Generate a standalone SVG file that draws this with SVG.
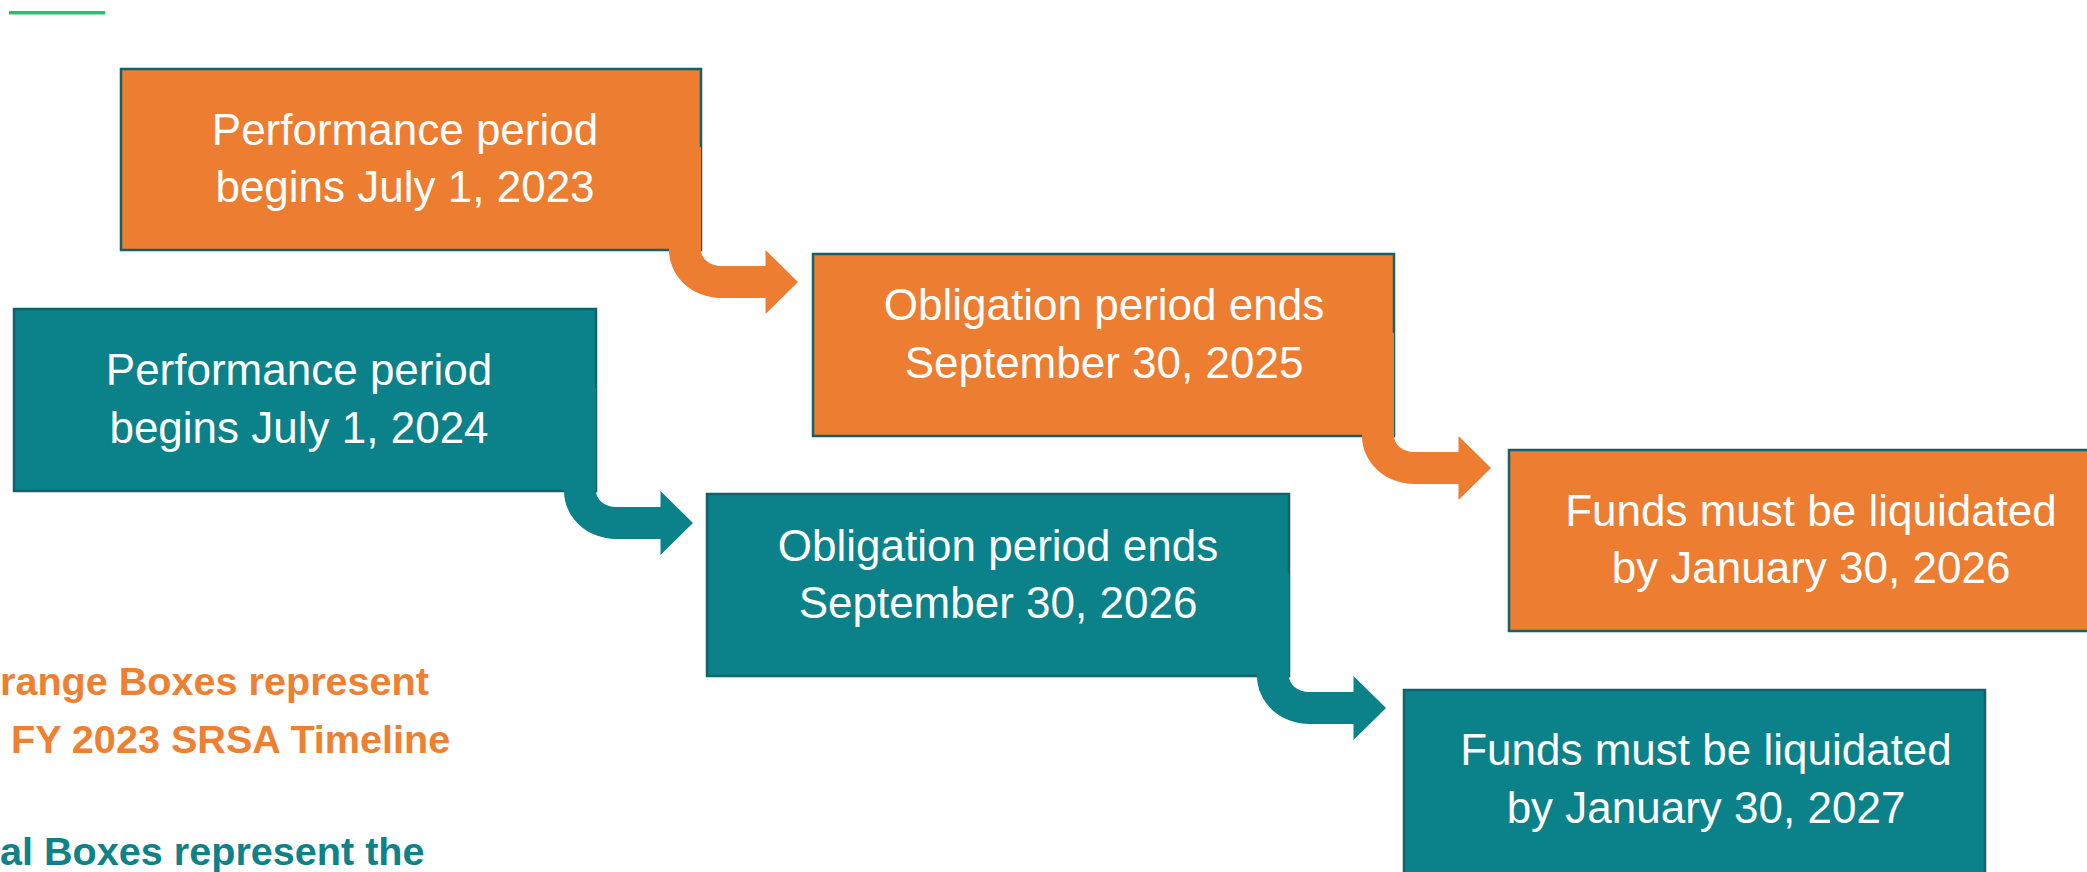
<svg xmlns="http://www.w3.org/2000/svg" xmlns:xlink="http://www.w3.org/1999/xlink" width="2087" height="872" viewBox="0 0 2087 872">
  <style>
    .box { stroke: #12626A; stroke-width: 2.5; }
    .orange { fill: #ED7D31; }
    .teal { fill: #0B8289; }
    .label { font-family: "Liberation Sans", Arial, sans-serif; font-size: 44px; fill: #FFFFFF; text-anchor: middle; }
    .legend { font-family: "Liberation Sans", Arial, sans-serif; font-size: 39.6px; font-weight: bold; }
  </style>
  <defs>
    <!-- bent arrow: origin at the bottom-right corner of the source box -->
    <path id="bend" d="M -32,-103 H 0 V 0 A 20 16 0 0 0 20 16 H 64.5 V 0 L 97 32 L 64.5 64 V 48 H 20 A 52 48 0 0 1 -32 0 Z"/>
  </defs>

  <rect width="2087" height="872" fill="#FFFFFF"/>

  <!-- accent rule -->
  <rect x="9" y="11" width="96" height="3.5" fill="#22C36A"/>

  <!-- FY 2023 timeline -->
  <g id="perf-2023">
    <rect class="box orange" x="121" y="69" width="580" height="181"/>
    <text class="label" x="405" y="145">Performance period</text>
    <text class="label" x="405" y="202">begins July 1, 2023</text>
  </g>
  <g id="oblig-2025">
    <rect class="box orange" x="813" y="254" width="581" height="182"/>
    <text class="label" x="1104" y="320">Obligation period ends</text>
    <text class="label" x="1104" y="378">September 30, 2025</text>
  </g>
  <g id="liquid-2026">
    <rect class="box orange" x="1509" y="450" width="590" height="181"/>
    <text class="label" x="1811" y="526">Funds must be liquidated</text>
    <text class="label" x="1811" y="583">by January 30, 2026</text>
  </g>

  <!-- FY 2024 timeline -->
  <g id="perf-2024">
    <rect class="box teal" x="14" y="309" width="582" height="182"/>
    <text class="label" x="299" y="385">Performance period</text>
    <text class="label" x="299" y="443">begins July 1, 2024</text>
  </g>
  <g id="oblig-2026">
    <rect class="box teal" x="707" y="494" width="582" height="182"/>
    <text class="label" x="998" y="561">Obligation period ends</text>
    <text class="label" x="998" y="618">September 30, 2026</text>
  </g>
  <g id="liquid-2027">
    <rect class="box teal" x="1404" y="690" width="581" height="186"/>
    <text class="label" x="1706" y="765">Funds must be liquidated</text>
    <text class="label" x="1706" y="823">by January 30, 2027</text>
  </g>

  <!-- connectors -->
  <g id="connectors">
    <use href="#bend" xlink:href="#bend" class="orange" transform="translate(701,250)"/>
    <use href="#bend" xlink:href="#bend" class="orange" transform="translate(1394,436)"/>
    <use href="#bend" xlink:href="#bend" class="teal" transform="translate(596,491)"/>
    <use href="#bend" xlink:href="#bend" class="teal" transform="translate(1289,676)"/>
  </g>

  <!-- legend -->
  <g id="legend">
    <text class="legend" x="0" y="695" fill="#EE8032">range Boxes represent</text>
    <text class="legend" x="11" y="753" fill="#EE8032">FY 2023 SRSA Timeline</text>
    <text class="legend" x="0" y="865" fill="#0E8189">al Boxes represent the</text>
  </g>
</svg>
